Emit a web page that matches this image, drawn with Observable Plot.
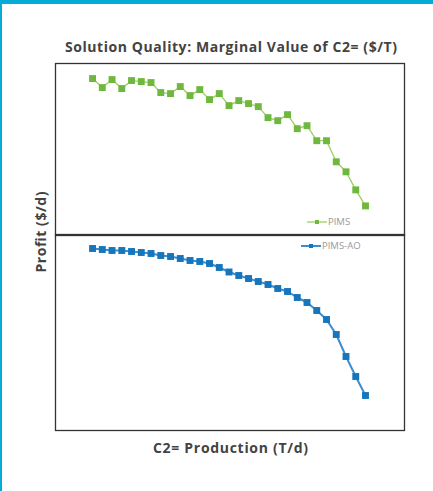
<!DOCTYPE html>
<html>
<head>
<meta charset="utf-8">
<script src="https://cdn.jsdelivr.net/npm/d3@7"></script>
<script src="https://cdn.jsdelivr.net/npm/@observablehq/plot@0.6"></script>
<style>
  html, body { margin: 0; padding: 0; background: #fff; }
  #wrap { position: relative; width: 433px; height: 491px; overflow: hidden; font-family: "Open Sans", Lato, sans-serif; }
  #card { position: absolute; left: 0; top: 0; width: 433px; height: 491px; box-sizing: border-box;
          border-top: 4px solid #06acd6; border-left: 2px solid #06acd6; }
  .abs { position: absolute; }
  .leg { font-size: 9.5px; color: #999; display: flex; align-items: center; white-space: nowrap; font-family: "Open Sans", sans-serif; }
  #labels { position: absolute; left: 0; top: 0; }
  #labels text { font-family: "Open Sans", Lato, sans-serif; font-weight: 700; font-size: 14px; fill: #434343; }
</style>
</head>
<body>
<div id="wrap">
  <div id="card"></div>
  <div id="top" class="abs"></div>
  <div id="bottom" class="abs"></div>
  <div id="legTop" class="abs leg"></div>
  <div id="legBottom" class="abs leg"></div>
  <svg id="labels" width="433" height="491">
    <text x="231" y="52" text-anchor="middle" textLength="332" lengthAdjust="spacing">Solution Quality: Marginal Value of C2= ($/T)</text>
    <text x="230.5" y="453" text-anchor="middle" textLength="155" lengthAdjust="spacing">C2= Production (T/d)</text>
    <text transform="translate(45.5,232) rotate(-90)" x="0" y="0" text-anchor="middle" textLength="81" lengthAdjust="spacing">Profit ($/d)</text>
  </svg>
</div>
<script>
// Data (arbitrary profit units)
const production = d3.range(1, 30);
const pimsProfit = [1570, 1480, 1560, 1470, 1550, 1540, 1530, 1430, 1420, 1490, 1400, 1460, 1360, 1420, 1300, 1350, 1320, 1290, 1180, 1150, 1210, 1070, 1100, 950, 950, 740, 640, 460, 300];
const pimsAoProfit = [1820, 1810, 1800, 1800, 1790, 1780, 1770, 1750, 1740, 1720, 1700, 1690, 1670, 1630, 1585, 1550, 1520, 1490, 1460, 1420, 1390, 1330, 1280, 1200, 1110, 960, 740, 540, 350];
const seriesNames = ["PIMS", "PIMS-AO"];
const markerColors = ["#6fb83f", "#1775bb"];
const lineColors = ["#9ccf5f", "#3c8dd0"];

const xDomain = [-2.8, 33];

function panel(values, yDomain, height, mColor, lColor, lw) {
  const data = production.map((p, i) => ({x: p, y: values[i]}));
  return Plot.plot({
    width: 431, height,
    marginLeft: 53, marginRight: 29, marginTop: 3, marginBottom: 3,
    x: {domain: xDomain, axis: null},
    y: {domain: yDomain, axis: null},
    marks: [
      Plot.frame({stroke: "#333", strokeWidth: 1.3}),
      Plot.line(data, {x: "x", y: "y", stroke: lColor, strokeWidth: lw}),
      Plot.dot(data, {x: "x", y: "y", symbol: "square", r: 3.9, fill: mColor, stroke: "none"})
    ]
  });
}

const topEl = document.getElementById("top");
topEl.style.left = "2px"; topEl.style.top = "60px";
topEl.appendChild(panel(pimsProfit, [5, 1720], 178, markerColors[0], lineColors[0], 1.3));

const botEl = document.getElementById("bottom");
botEl.style.left = "2px"; botEl.style.top = "231px";
botEl.appendChild(panel(pimsAoProfit, [0, 1960], 202, markerColors[1], lineColors[1], 2));

function legend(el, name, mColor, lColor, left, top, lw) {
  el.style.left = left + "px"; el.style.top = top + "px";
  el.innerHTML = `<svg width="20" height="8" style="margin-right:1px"><line x1="0" x2="20" y1="4" y2="4" stroke="${lColor}" stroke-width="${lw}"/><rect x="8" y="2" width="4" height="4" fill="${mColor}"/></svg><span>${name}</span>`;
}
legend(document.getElementById("legTop"), seriesNames[0], markerColors[0], lineColors[0], 307, 215, 1.3);
legend(document.getElementById("legBottom"), seriesNames[1], markerColors[1], lineColors[1], 301, 239, 2);
</script>
</body>
</html>
